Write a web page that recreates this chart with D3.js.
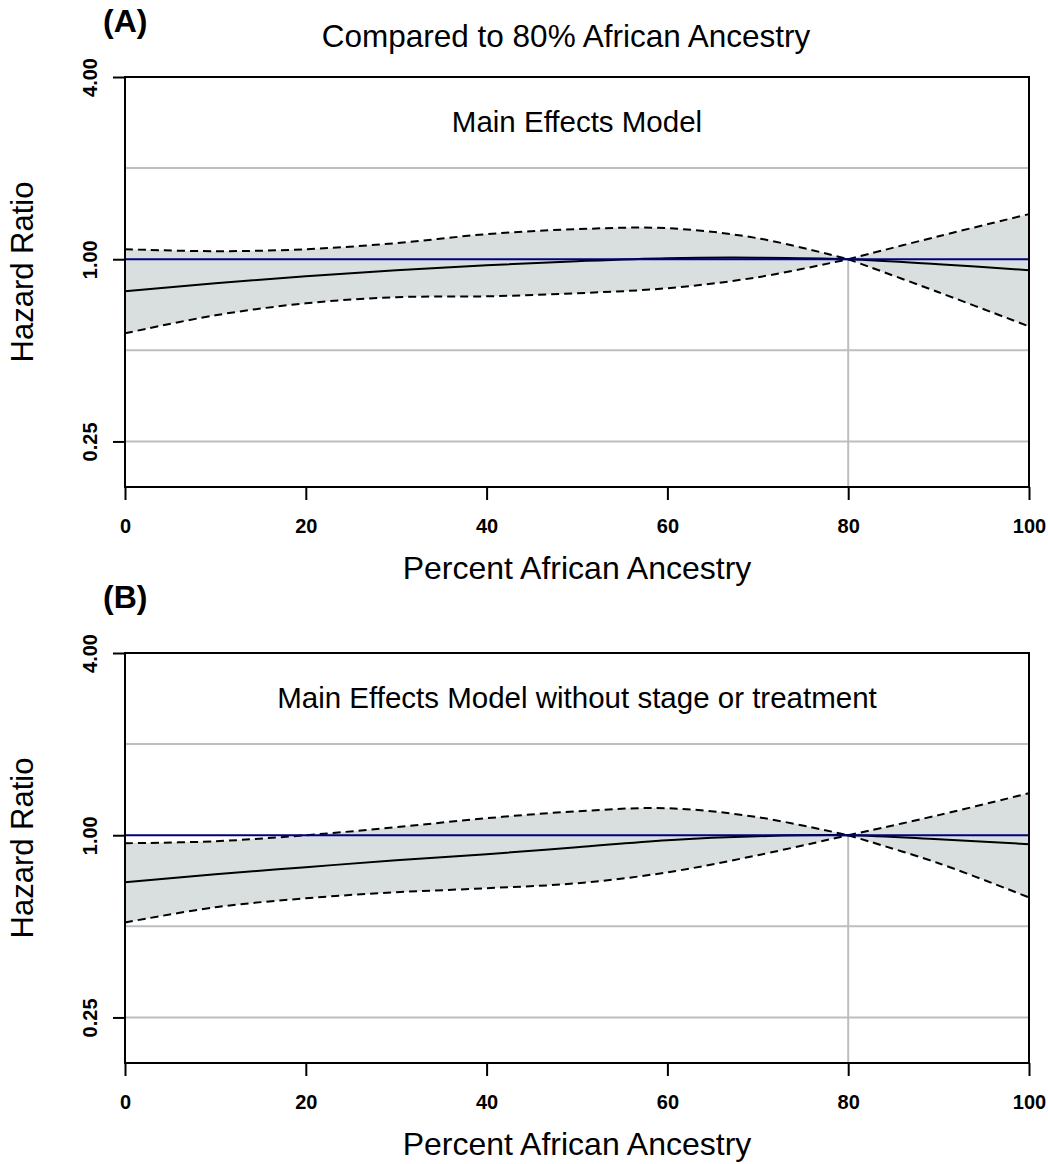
<!DOCTYPE html>
<html>
<head>
<meta charset="utf-8">
<script src="https://cdn.jsdelivr.net/npm/d3@7"></script>
<style>
  body { margin: 0; background: #fff; }
  svg { font-family: "Liberation Sans", Arial, sans-serif; }
</style>
</head>
<body>
<svg id="chart" width="1048" height="1164"></svg>
<script>

// Percent African ancestry where the curves were read
var pctAfrican = [0, 10, 20, 30, 40, 50, 60, 70, 80, 90, 100];

// (A) Main effects model, hazard ratio vs 80%
var hrA = [0.784, 0.833, 0.879, 0.920, 0.955, 0.985, 1.008, 1.012, 1.000, 0.963, 0.920];
var upperA = [1.079, 1.063, 1.079, 1.130, 1.210, 1.257, 1.266, 1.173, 1.000, 1.191, 1.409];
var lowerA = [0.569, 0.653, 0.715, 0.749, 0.754, 0.772, 0.802, 0.872, 1.000, 0.778, 0.600];

// (B) Main effects model without stage or treatment
var hrB = [0.699, 0.743, 0.784, 0.827, 0.865, 0.913, 0.963, 0.992, 1.000, 0.970, 0.934];
var upperB = [0.941, 0.955, 1.000, 1.063, 1.138, 1.200, 1.228, 1.147, 1.000, 1.165, 1.377];
var lowerB = [0.515, 0.578, 0.619, 0.648, 0.668, 0.694, 0.754, 0.859, 1.000, 0.808, 0.623];

var xTicks = [0, 20, 40, 60, 80, 100];
var yTicks = [0.25, 1, 4];
var yGrid = [0.25, 0.5, 2];
var refPct = 80;

var svg = d3.select("svg"),
    margin = {left: 125, right: 19},
    width = 1048 - margin.left - margin.right,
    height = 410;

var x = d3.scaleLinear().domain([0, 100]).range([0, width]);
var y = d3.scaleLog().base(2).domain([0.25 / Math.SQRT2, 4]).range([height, 0]);

var curve = d3.curveCatmullRom.alpha(0.5);

function drawPanel(top, letter, note, hr, lo, hi, title) {
  var g = svg.append("g").attr("transform", "translate(" + margin.left + "," + top + ")");

  var rows = pctAfrican.map(function(p, i) {
    return {p: p, hr: hr[i], lo: lo[i], hi: hi[i]};
  });
  // split at the reference so the band keeps its pinch
  var pieces = [
    rows.filter(function(d) { return d.p <= refPct; }),
    rows.filter(function(d) { return d.p >= refPct; })
  ];

  // grid
  g.selectAll(".hgrid")
    .data(yGrid)
    .enter().append("line")
      .attr("x1", 0).attr("x2", width)
      .attr("y1", function(d) { return y(d); })
      .attr("y2", function(d) { return y(d); })
      .attr("stroke", "#bebebe").attr("stroke-width", 2);

  g.append("line")
    .attr("x1", x(refPct)).attr("x2", x(refPct))
    .attr("y1", y(1)).attr("y2", height)
    .attr("stroke", "#bebebe").attr("stroke-width", 2);

  var area = d3.area()
    .x(function(d) { return x(d.p); })
    .y0(function(d) { return y(d.lo); })
    .y1(function(d) { return y(d.hi); })
    .curve(curve);

  g.selectAll(".band")
    .data(pieces)
    .enter().append("path")
      .attr("d", area)
      .attr("fill", "#d9dfdf");

  var lineHi = d3.line().x(function(d) { return x(d.p); }).y(function(d) { return y(d.hi); }).curve(curve);
  var lineLo = d3.line().x(function(d) { return x(d.p); }).y(function(d) { return y(d.lo); }).curve(curve);

  pieces.forEach(function(piece) {
    [lineHi, lineLo].forEach(function(fn) {
      g.append("path")
        .attr("d", fn(piece))
        .attr("fill", "none")
        .attr("stroke", "#000")
        .attr("stroke-width", 2)
        .attr("stroke-dasharray", "8,5");
    });
  });

  g.append("path")
    .attr("d", d3.line()
      .x(function(d) { return x(d.p); })
      .y(function(d) { return y(d.hr); })
      .curve(curve)(rows))
    .attr("fill", "none")
    .attr("stroke", "#000")
    .attr("stroke-width", 2);

  g.append("line")
    .attr("x1", 0).attr("x2", width)
    .attr("y1", y(1)).attr("y2", y(1))
    .attr("stroke", "#000080").attr("stroke-width", 2);

  // box
  g.append("rect")
    .attr("width", width).attr("height", height)
    .attr("fill", "none").attr("stroke", "#000").attr("stroke-width", 2);

  // x axis
  var xAxis = g.append("g")
      .attr("transform", "translate(0," + height + ")")
      .call(d3.axisBottom(x).tickValues(xTicks).tickSize(13).tickPadding(19).tickFormat(d3.format("d")));
  xAxis.select(".domain").remove();
  xAxis.selectAll("line").attr("stroke-width", 2);
  xAxis.selectAll("text")
    .attr("font-size", 20).attr("font-weight", "bold").attr("font-family", null).attr("fill", "#000");

  // y axis, labels turned like R's las=0
  var yAxis = g.append("g")
      .call(d3.axisLeft(y).tickValues(yTicks).tickSize(12).tickFormat(d3.format(".2f")));
  yAxis.select(".domain").remove();
  yAxis.selectAll("line").attr("stroke-width", 2);
  yAxis.selectAll("text")
    .attr("x", null).attr("dy", null).attr("y", null)
    .attr("transform", "translate(-28,0) rotate(-90)")
    .attr("text-anchor", "middle")
    .attr("font-size", 20).attr("font-weight", "bold").attr("font-family", null).attr("fill", "#000");

  g.append("text")
    .attr("x", width / 2).attr("y", 55)
    .attr("text-anchor", "middle")
    .attr("font-size", 29.5)
    .text(note);

  g.append("text")
    .attr("x", width / 2).attr("y", height + 92)
    .attr("text-anchor", "middle")
    .attr("font-size", 32)
    .text("Percent African Ancestry");

  g.append("text")
    .attr("transform", "translate(-92," + (height / 2 - 10) + ") rotate(-90)")
    .attr("text-anchor", "middle")
    .attr("font-size", 31)
    .text("Hazard Ratio");

  g.append("text")
    .attr("x", -22).attr("y", -45)
    .attr("font-size", 32).attr("font-weight", "bold")
    .text(letter);

  if (title) {
    g.append("text")
      .attr("x", width / 2 - 11).attr("y", -30)
      .attr("text-anchor", "middle")
      .attr("font-size", 31.5)
      .text(title);
  }
}

drawPanel(77, "(A)", "Main Effects Model", hrA, lowerA, upperA, "Compared to 80% African Ancestry");
drawPanel(653, "(B)", "Main Effects Model without stage or treatment", hrB, lowerB, upperB, null);

</script>
</body>
</html>
